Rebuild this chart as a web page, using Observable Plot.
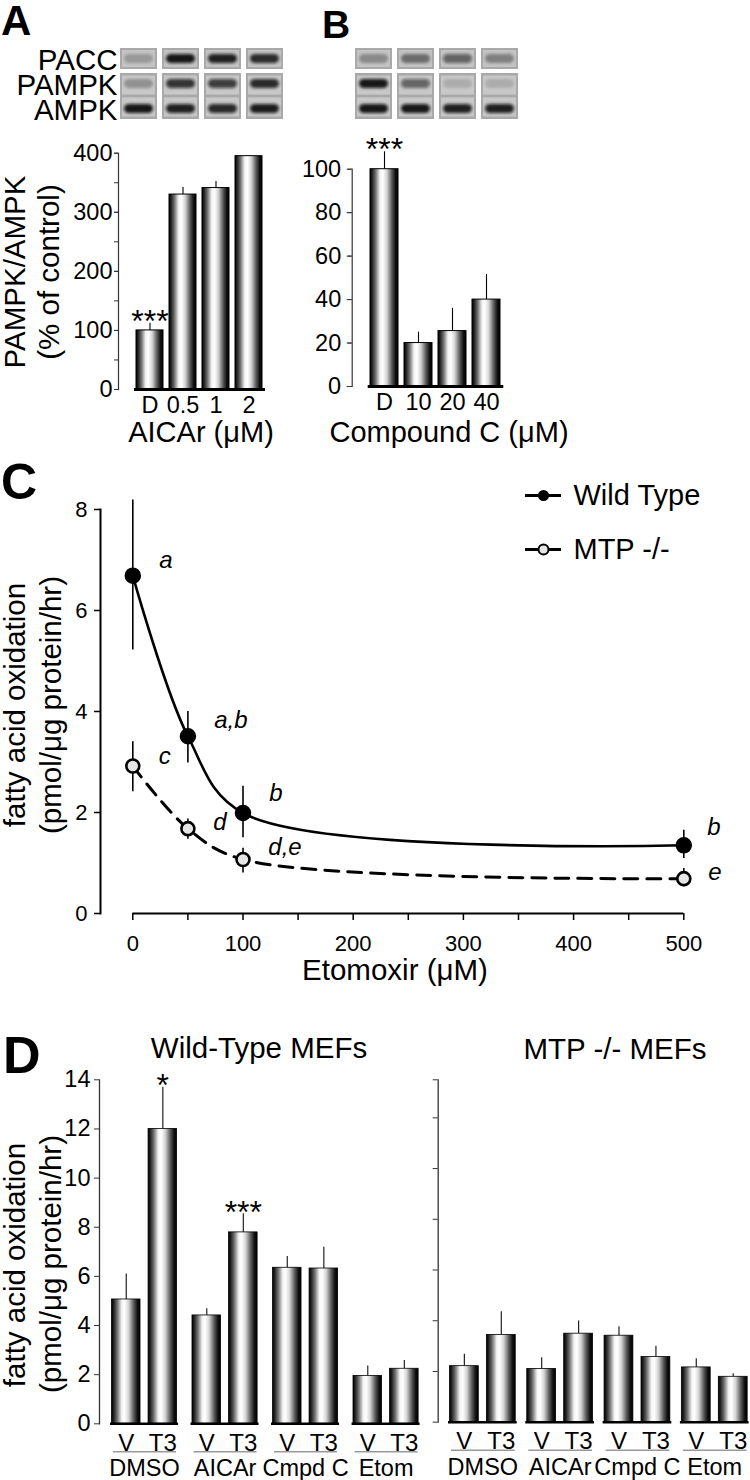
<!DOCTYPE html>
<html><head><meta charset="utf-8">
<script src="https://cdn.jsdelivr.net/npm/d3@7"></script>
<script src="https://cdn.jsdelivr.net/npm/@observablehq/plot@0.6"></script>
<style>
html,body{margin:0;padding:0;background:#fff;}
#fig{position:relative;width:750px;height:1480px;overflow:hidden;font-family:"Liberation Sans",Arial,Helvetica,sans-serif;color:#000;background:#fff;}
.t{position:absolute;white-space:nowrap;line-height:1;transform:translate(-50%,-50%);}
.rot{line-height:0.8;transform:translate(-50%,-50%) rotate(-90deg);}
.letter{position:absolute;font-weight:bold;line-height:0.8;}
</style></head>
<body>
<svg width="0" height="0" style="position:absolute;left:0;top:0">
 <defs>
  <linearGradient id="cyl" x1="0" x2="1" y1="0" y2="0">
   <stop offset="0" stop-color="#000"/>
   <stop offset="0.07" stop-color="#1e1e1e"/>
   <stop offset="0.2" stop-color="#707070"/>
   <stop offset="0.36" stop-color="#f4f4f4"/>
   <stop offset="0.46" stop-color="#ffffff"/>
   <stop offset="0.6" stop-color="#d4d4d4"/>
   <stop offset="0.78" stop-color="#5a5a5a"/>
   <stop offset="0.91" stop-color="#111"/>
   <stop offset="1" stop-color="#000"/>
  </linearGradient>
  <filter id="blur" x="-30%" y="-80%" width="160%" height="260%"><feGaussianBlur stdDeviation="1.4"/></filter>
 </defs>
</svg>
<div id="fig"></div>
<script>
// ---------------- DATA ----------------
// Panel A
const lanesA = ["D", "0.5", "1", "2"];
const valuesA = [100, 330, 341, 395];
const errTopA = [112, 342, 352, 395];
const starsA = ["***", "", "", ""];
const ticksA = [0, 100, 200, 300, 400];
const ticksAminor = [0, 50, 100, 150, 200, 250, 300, 350, 400];
// Panel B
const lanesB = ["D", "10", "20", "40"];
const valuesB = [100, 20, 25.5, 40];
const errTopB = [108, 25, 36, 51.5];
const starsB = ["***", "", "", ""];
const ticksB = [0, 20, 40, 60, 80, 100];
// Blots (band darkness 0..1 per lane)
const blotRows = ["PACC", "PAMPK", "AMPK"];
const blotA_PACC = [0.22, 0.95, 0.9, 0.85];
const blotA_PAMPK = [0.28, 0.8, 0.75, 0.85];
const blotA_AMPK = [0.95, 0.9, 0.85, 0.92];
const blotB_PACC = [0.3, 0.45, 0.55, 0.35];
const blotB_PAMPK = [0.95, 0.55, 0.14, 0.14];
const blotB_AMPK = [0.95, 0.95, 0.9, 0.9];
// Panel C
const etomoxir = [0, 50, 100, 500];
const wtMean = [6.69, 3.51, 1.99, 1.35];
const wtLow = [5.22, 2.98, 1.5, 1.09];
const wtHigh = [8.19, 4.0, 2.52, 1.65];
const mtpMean = [2.92, 1.68, 1.07, 0.69];
const mtpLow = [2.41, 1.47, 0.8, 0.53];
const mtpHigh = [3.4, 1.87, 1.29, 0.89];
const wtLetters = ["a", "a,b", "b", "b"];
const mtpLetters = ["c", "d", "d,e", "e"];
const legendSeries = ["Wild Type", "MTP -/-"];
const ticksCy = [0, 2, 4, 6, 8];
const ticksCx = [0, 50, 100, 150, 200, 250, 300, 350, 400, 450, 500];
// Panel D
const groupsD = ["DMSO", "AICAr", "Cmpd C", "Etom"];
const condsD = ["V", "T3"];
const wtV = [5.06, 4.41, 6.35, 1.95];
const wtVErr = [6.1, 4.68, 6.81, 2.35];
const wtT3 = [12.0, 7.79, 6.32, 2.24];
const wtT3Err = [13.7, 8.55, 7.19, 2.58];
const mtpV = [2.21, 2.1, 3.41, 2.16];
const mtpVErr = [2.68, 2.54, 3.76, 2.5];
const mtpT3 = [3.44, 3.49, 2.57, 1.79];
const mtpT3Err = [4.35, 3.99, 2.99, 1.91];
const starsWtT3 = ["*", "***", "", ""];
const ticksDleft = [0, 2, 4, 6, 8, 10, 12, 14];
const yDomainDleft = [0, 14];
const yDomainDright = [0, 13.5];
const ticksDright = [0, 2, 4, 6, 8, 10, 12, 13.5];

// ---------------- HELPERS ----------------
const FONT = '"Liberation Sans", Arial, Helvetica, sans-serif';
const fig = document.getElementById("fig");
const baseStyle = {background: "transparent", overflow: "visible", maxWidth: "none", fontFamily: FONT, color: "#000"};
function place(svg, top, left = 0) {
  svg.style.position = "absolute";
  svg.style.left = left + "px";
  svg.style.top = top + "px";
  fig.appendChild(svg);
  return svg;
}
function txt(s, x, y, size, cls = "", extra = "") {
  const d = document.createElement("div");
  d.className = "t " + cls;
  d.textContent = s;
  d.style.cssText += `left:${x}px;top:${y}px;font-size:${size}px;${extra}`;
  fig.appendChild(d);
  return d;
}
function letter(s, x, y, size) {
  const d = document.createElement("div");
  d.className = "letter";
  d.textContent = s;
  d.style.cssText += `left:${x}px;top:${y}px;font-size:${size}px;`;
  fig.appendChild(d);
}

// ---------------- BLOTS ----------------
function blotPlot(lanes, rowsData, left, right, showLabels) {
  const cells = [];
  blotRows.forEach((r, ri) => lanes.forEach((l, li) => cells.push({lane: l, row: r, v: rowsData[ri][li]})));
  const byRow = r => cells.filter(c => c.row === r);
  const W = right + 12;
  const svg = Plot.plot({
    width: W, height: 90,
    marginLeft: left, marginRight: W - right, marginTop: 8, marginBottom: 10,
    style: baseStyle,
    x: {domain: lanes, paddingInner: 0.13, paddingOuter: 0, axis: null},
    y: {domain: blotRows, paddingInner: 0.15, paddingOuter: 0, axis: null},
    opacity: {type: "identity"},
    marks: [
      Plot.cell(byRow("PACC"), {x: "lane", y: "row", fill: "#a9a9a9"}),
      Plot.cell(byRow("PAMPK"), {x: "lane", y: "row", fill: "#a9a9a9", insetBottom: -2}),
      Plot.cell(byRow("AMPK"), {x: "lane", y: "row", fill: "#a9a9a9", insetTop: -2}),
      Plot.cell(byRow("PACC"), {x: "lane", y: "row", fill: "#c4c4c4", inset: 2}),
      Plot.cell(byRow("PAMPK"), {x: "lane", y: "row", fill: "#c8c8c8", insetLeft: 2, insetRight: 2, insetTop: 2.5, insetBottom: -0.6}),
      Plot.cell(byRow("AMPK"), {x: "lane", y: "row", fill: "#c8c8c8", insetLeft: 2, insetRight: 2, insetTop: -0.6, insetBottom: 2.5}),
      Plot.cell(cells, {x: "lane", y: "row", fill: "#0d0d0d", fillOpacity: "v", insetTop: 6, insetBottom: 6, insetLeft: 4, insetRight: 4, rx: 5}),
      ...(showLabels ? [Plot.axisY({tickSize: 0, tickPadding: 3, fontSize: 29.5, label: null, dy: 2})] : [])
    ]
  });
  svg.querySelectorAll("[rx]").forEach(el => el.setAttribute("filter", "url(#blur)"));
  return svg;
}
place(blotPlot(lanesA, [blotA_PACC, blotA_PAMPK, blotA_AMPK], 120, 283.3, true), 40);
place(blotPlot(lanesB, [blotB_PACC, blotB_PAMPK, blotB_AMPK], 355, 518, false), 40);

// ---------------- PANEL A / B BAR CHARTS ----------------
function barPanel(lanes, values, errs, stars, ticks, minor, domain, cfg) {
  const data = lanes.map((k, i) => ({lane: k, value: values[i], hi: errs[i], star: stars[i]}));
  return Plot.plot({
    width: cfg.width, height: cfg.height,
    marginLeft: cfg.ml, marginRight: cfg.mr, marginTop: cfg.mt, marginBottom: cfg.mb,
    style: baseStyle,
    x: {domain: lanes, paddingInner: cfg.pi, paddingOuter: cfg.po, axis: null},
    y: {domain, axis: null},
    marks: [
      Plot.ruleX(data, {x: "lane", y1: "value", y2: "hi", stroke: "#000", strokeWidth: 1.1}),
      Plot.barY(data, {x: "lane", y: "value", fill: "url(#cyl)", stroke: "#000", strokeWidth: 1}),
      Plot.ruleY([0], {stroke: "#000", strokeWidth: 3, insetLeft: cfg.inset, insetRight: cfg.inset}),
      Plot.frame({anchor: "left", stroke: "#333", strokeWidth: 1.2}),
      Plot.axisY({ticks: minor, tickFormat: () => "", tickSize: 4, label: null, stroke: "#333"}),
      Plot.axisY({ticks, tickSize: cfg.ts, tickPadding: cfg.tp, fontSize: 23.5, label: null, stroke: "#333"}),
      Plot.axisX({tickSize: 0, tickPadding: 7, fontSize: 23.5, label: null}),
      Plot.text(data.filter(d => d.star), {x: "lane", y: "hi", text: "star", fontSize: 32, dy: -2})
    ]
  });
}
place(barPanel(lanesA, valuesA, errTopA, starsA, ticksA, ticksAminor, [0, 400],
  {width: 300, height: 350, ml: 118, mr: 19, mt: 22.7, mb: 91, pi: 0.18, po: 0.5, inset: 16, ts: 4, tp: 2}), 130);
place(barPanel(lanesB, valuesB, errTopB, starsB, ticksB, ticksB, [0, 100],
  {width: 540, height: 350, ml: 351.7, mr: 20.7, mt: 38.7, mb: 94, pi: 0.175, po: 0.5, inset: 16, ts: 5, tp: 6}), 130);

// ---------------- PANEL C ----------------
const wt = etomoxir.map((x, i) => ({x, y: wtMean[i], lo: wtLow[i], hi: wtHigh[i], label: wtLetters[i]}));
const mtp = etomoxir.map((x, i) => ({x, y: mtpMean[i], lo: mtpLow[i], hi: mtpHigh[i], label: mtpLetters[i]}));
const wtOffsets = [[33, -15], [43, -16], [33, -20], [30, -18]];
const mtpOffsets = [[32, -10], [32, -6], [42, -12], [31, -6]];
const letterMarks = [];
wt.forEach((d, i) => letterMarks.push(Plot.text([d], {x: "x", y: "y", text: "label", dx: wtOffsets[i][0], dy: wtOffsets[i][1], fontSize: 24, fontStyle: "italic"})));
mtp.forEach((d, i) => letterMarks.push(Plot.text([d], {x: "x", y: "y", text: "label", dx: mtpOffsets[i][0], dy: mtpOffsets[i][1], fontSize: 24, fontStyle: "italic"})));
place(Plot.plot({
  width: 750, height: 520,
  marginLeft: 100, marginRight: 20, marginTop: 39, marginBottom: 77,
  style: baseStyle,
  x: {domain: [0, 500], range: [132.3, 683.3], axis: null},
  y: {domain: [0, 8], axis: null},
  marks: [
    Plot.frame({anchor: "left", stroke: "#000", strokeWidth: 2}),
    Plot.ruleY([0], {x1: d3.min(ticksCx), x2: d3.max(ticksCx), stroke: "#000", strokeWidth: 2}),
    Plot.axisY({ticks: ticksCy, tickSize: 6, tickPadding: 7, fontSize: 22, label: null, strokeWidth: 1.5}),
    Plot.axisX({ticks: ticksCx, tickFormat: d => (d % 100 === 0 ? d : ""), tickSize: 7, tickPadding: 15, fontSize: 22, label: null, strokeWidth: 1.5}),
    Plot.line(wt, {x: "x", y: "y", curve: "catmull-rom", stroke: "#000", strokeWidth: 2.6}),
    Plot.line(mtp, {x: "x", y: "y", curve: "catmull-rom", stroke: "#000", strokeWidth: 3, strokeDasharray: "14,9"}),
    Plot.ruleX(wt, {x: "x", y1: "lo", y2: "hi", stroke: "#000", strokeWidth: 1.6}),
    Plot.ruleX(mtp, {x: "x", y1: "lo", y2: "hi", stroke: "#000", strokeWidth: 1.6}),
    Plot.dot(wt, {x: "x", y: "y", r: 7.5, fill: "#000", stroke: "#000"}),
    Plot.dot(mtp, {x: "x", y: "y", r: 6.5, fill: "#e6e6e6", stroke: "#000", strokeWidth: 2.6}),
    ...letterMarks
  ]
}), 470);
// legend for C
place(Plot.plot({
  width: 750, height: 120, margin: 0,
  style: baseStyle,
  x: {domain: [0, 1], range: [525, 561], axis: null},
  y: {domain: legendSeries, type: "point", range: [25, 79], padding: 0, axis: null},
  marks: [
    Plot.ruleY(legendSeries, {y: d => d, x1: 0, x2: 1, stroke: "#000", strokeWidth: 3}),
    Plot.dot(legendSeries.slice(0, 1), {y: d => d, x: 0.5, r: 5.5, fill: "#000"}),
    Plot.dot(legendSeries.slice(1, 2), {y: d => d, x: 0.5, r: 5, fill: "#e6e6e6", stroke: "#000", strokeWidth: 2}),
    Plot.text(legendSeries, {y: d => d, x: 1, dx: 12, text: d => d, textAnchor: "start", fontSize: 29})
  ]
}), 470);

// ---------------- PANEL D ----------------
function dRows(v, vErr, t3, t3Err, stars) {
  const rows = [];
  groupsD.forEach((g, i) => {
    rows.push({group: g, cond: condsD[0], value: v[i], hi: vErr[i], star: ""});
    rows.push({group: g, cond: condsD[1], value: t3[i], hi: t3Err[i], star: stars ? stars[i] : ""});
  });
  return rows;
}
function dPanel(rows, cfg) {
  return Plot.plot({
    width: cfg.width, height: 450,
    marginLeft: cfg.ml, marginRight: cfg.mr, marginTop: 49.3, marginBottom: cfg.mb,
    style: baseStyle,
    fx: {domain: groupsD, paddingInner: cfg.fpi, paddingOuter: cfg.fpo, axis: null, round: false},
    x: {domain: condsD, paddingInner: 0.22, paddingOuter: 0.04, axis: null, round: false},
    y: {domain: cfg.domain, axis: null},
    marks: [
      Plot.ruleX(rows, {fx: "group", x: "cond", y1: "value", y2: "hi", stroke: "#222", strokeWidth: 1.2}),
      Plot.barY(rows, {fx: "group", x: "cond", y: "value", fill: "url(#cyl)", stroke: "#000", strokeWidth: 0.8}),
      Plot.ruleY([0], {stroke: "#000", strokeWidth: 2.6}),
      Plot.ruleY([0], {dy: 28, stroke: "#999", strokeWidth: 1.5, insetLeft: 3, insetRight: 2}),
      Plot.axisX({tickSize: 0, tickPadding: 10, fontSize: 24, label: null}),
      Plot.axisFx({anchor: "bottom", tickSize: 0, tickPadding: 36, fontSize: 23.5, label: null}),
      Plot.text(rows.filter(d => d.star), {fx: "group", x: "cond", y: "hi", text: "star", fontSize: 32, dy: -1})
    ]
  });
}
function dAxis(domain, ticks, ml, mb, labels) {
  return Plot.plot({
    width: ml + 10, height: 450, marginLeft: ml, marginRight: 0, marginTop: 49.3, marginBottom: mb,
    style: baseStyle,
    y: {domain, axis: null},
    marks: [
      Plot.frame({anchor: "left", stroke: "#333", strokeWidth: 1.3}),
      Plot.axisY({ticks, tickSize: 5, tickPadding: 4, fontSize: 23.5, label: null, stroke: "#333",
        tickFormat: labels ? (d => d) : (() => "")})
    ]
  });
}
place(dAxis(yDomainDleft, ticksDleft, 99, 56.7, true), 1030);
place(dPanel(dRows(wtV, wtVErr, wtT3, wtT3Err, starsWtT3),
  {width: 440, ml: 99, mr: 9.4, mb: 56.7, fpi: 0.155, fpo: 0.137, domain: yDomainDleft}), 1030);
place(dAxis(yDomainDright, ticksDright, 437.7, 58.3, false), 1030);
place(dPanel(dRows(mtpV, mtpVErr, mtpT3, mtpT3Err, null),
  {width: 770, ml: 437.7, mr: 11.1, mb: 58.3, fpi: 0.111, fpo: 0.133, domain: yDomainDright}), 1030);

// ---------------- TEXT ----------------
letter("A", 1, 4, 42);
letter("B", 322, 9, 39);
letter("C", 1, 462, 50);
letter("D", 3, 1035, 52);
txt("PAMPK/AMPK", 15, 272, 29.5, "rot");
txt("(% of control)", 49, 272, 29.5, "rot");
txt("AICAr (\u03bcM)", 201, 432, 29);
txt("Compound C (\u03bcM)", 449, 432, 29);
txt("fatty acid oxidation", 15, 705, 29.5, "rot");
txt("(pmol/\u03bcg protein/hr)", 51, 705, 29.5, "rot");
txt("Etomoxir (\u03bcM)", 395, 970, 29.5);
txt("Wild-Type MEFs", 259, 1048, 29.5);
txt("MTP -/- MEFs", 615, 1049, 29.5);
txt("fatty acid oxidation", 15, 1265, 29.5, "rot");
txt("(pmol/\u03bcg protein/hr)", 51, 1264, 29.5, "rot");
</script>
</body></html>
